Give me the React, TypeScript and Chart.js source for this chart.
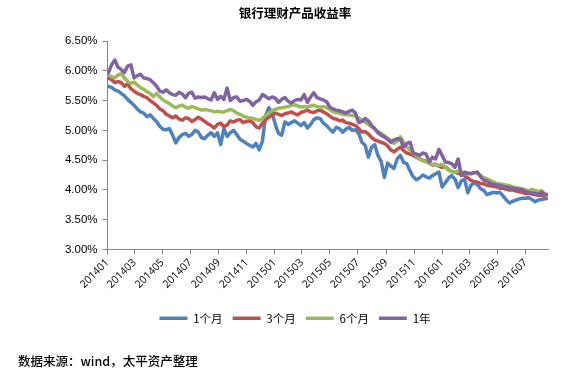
import React, { useEffect, useRef } from 'react';
import { Chart, registerables } from 'chart.js';

Chart.register(...registerables);

const chartTitle = '银行理财产品收益率';
const sourceNote = '数据来源：wind，太平资产整理';
const firstWeek = '2014-01-03';
const tickLabels = ['201401', '201403', '201405', '201407', '201409', '201411', '201501', '201503', '201505', '201507', '201509', '201511', '201601', '201603', '201605', '201607'];
const seriesNames = ['1个月', '3个月', '6个月', '1年'];
const colors = ['#4F81BD', '#C0504D', '#9BBB59', '#8064A2'];

const yield1M = [
  5.74, 5.72, 5.68, 5.66, 5.62, 5.58, 5.52, 5.47, 5.42, 5.36,
  5.31, 5.29, 5.23, 5.26, 5.20, 5.15, 5.07, 5.02, 5.01, 5.03,
  4.92, 4.79, 4.88, 4.93, 4.95, 4.90, 4.93, 5.00, 4.97, 4.88,
  4.86, 4.92, 4.96, 4.90, 4.96, 4.76, 5.03, 4.90, 4.96, 5.00,
  4.93, 4.85, 4.82, 4.78, 4.75, 4.72, 4.78, 4.67, 4.82, 5.25,
  5.38, 5.30, 5.10, 4.95, 4.92, 5.14, 5.10, 5.13, 5.16, 5.12,
  5.08, 5.13, 5.04, 5.10, 5.18, 5.21, 5.20, 5.12, 5.08, 5.02,
  4.97, 5.05, 5.03, 4.97, 5.02, 5.05, 5.00, 5.01, 4.95, 4.80,
  4.75, 4.55, 4.72, 4.76, 4.58, 4.48, 4.21, 4.45, 4.40, 4.36,
  4.52, 4.58, 4.46, 4.44, 4.32, 4.22, 4.17, 4.20, 4.25, 4.22,
  4.20, 4.24, 4.27, 4.30, 4.05, 4.12, 4.20, 4.24, 4.18, 4.04,
  4.15, 4.18, 3.95, 4.08, 4.12, 4.09, 4.02, 3.99, 3.92, 3.94,
  3.96, 3.95, 3.96, 3.90, 3.83, 3.78, 3.81, 3.83, 3.85, 3.86,
  3.86, 3.87, 3.84, 3.80, 3.83, 3.84, 3.85, 3.86,
];

const yield3M = [
  5.88, 5.85, 5.80, 5.82, 5.80, 5.74, 5.78, 5.70, 5.66, 5.62,
  5.60, 5.57, 5.55, 5.50, 5.46, 5.42, 5.36, 5.33, 5.27, 5.24,
  5.21, 5.24, 5.19, 5.17, 5.21, 5.20, 5.15, 5.18, 5.22, 5.19,
  5.15, 5.11, 5.08, 5.04, 5.10, 5.12, 5.06, 5.09, 5.16, 5.14,
  5.17, 5.18, 5.13, 5.15, 5.16, 5.13, 5.06, 5.04, 5.12, 5.18,
  5.22, 5.26, 5.29, 5.27, 5.25, 5.28, 5.29, 5.31, 5.28, 5.26,
  5.30, 5.32, 5.34, 5.31, 5.30, 5.33, 5.34, 5.31, 5.28, 5.24,
  5.20, 5.19, 5.16, 5.17, 5.13, 5.12, 5.10, 5.08, 5.03, 4.97,
  4.98, 4.94, 4.88, 4.84, 4.82, 4.80, 4.78, 4.74, 4.67, 4.64,
  4.68, 4.72, 4.66, 4.62, 4.60, 4.58, 4.55, 4.52, 4.50, 4.48,
  4.45, 4.42, 4.43, 4.40, 4.38, 4.39, 4.34, 4.31, 4.30, 4.28,
  4.26, 4.24, 4.20, 4.16, 4.14, 4.13, 4.11, 4.10, 4.08, 4.07,
  4.06, 4.05, 4.03, 4.03, 4.01, 4.00, 4.00, 3.98, 3.97, 3.96,
  3.94, 3.94, 3.93, 3.92, 3.91, 3.91, 3.89, 3.88,
];

const yield6M = [
  5.93, 5.90, 5.88, 5.93, 5.95, 5.88, 5.82, 5.79, 5.81, 5.76,
  5.72, 5.69, 5.65, 5.62, 5.57, 5.62, 5.56, 5.51, 5.48, 5.45,
  5.41, 5.38, 5.41, 5.42, 5.39, 5.37, 5.40, 5.38, 5.36, 5.34,
  5.35, 5.34, 5.33, 5.31, 5.32, 5.31, 5.31, 5.33, 5.35, 5.33,
  5.29, 5.27, 5.24, 5.22, 5.21, 5.20, 5.18, 5.17, 5.20, 5.25,
  5.29, 5.33, 5.35, 5.37, 5.38, 5.39, 5.40, 5.42, 5.43, 5.41,
  5.39, 5.40, 5.39, 5.41, 5.42, 5.40, 5.39, 5.40, 5.38, 5.35,
  5.31, 5.30, 5.29, 5.27, 5.26, 5.26, 5.25, 5.24, 5.21, 5.17,
  5.14, 5.10, 5.06, 5.02, 4.98, 4.95, 4.91, 4.87, 4.83, 4.78,
  4.82, 4.89, 4.80, 4.72, 4.67, 4.62, 4.57, 4.52, 4.49, 4.47,
  4.45, 4.43, 4.42, 4.41, 4.43, 4.38, 4.33, 4.31, 4.30, 4.32,
  4.30, 4.28, 4.27, 4.28, 4.29, 4.28, 4.24, 4.21, 4.18, 4.16,
  4.13, 4.11, 4.10, 4.09, 4.08, 4.07, 4.05, 4.04, 4.03, 4.02,
  4.00, 3.99, 4.01, 3.99, 3.98, 3.99, 3.93, 3.89,
];

const yield1Y = [
  5.97, 6.10, 6.18, 6.06, 6.02, 5.97, 6.08, 6.10, 5.88, 5.92,
  5.94, 5.88, 5.87, 5.85, 5.80, 5.74, 5.66, 5.64, 5.68, 5.63,
  5.60, 5.59, 5.64, 5.61, 5.55, 5.62, 5.64, 5.54, 5.56, 5.55,
  5.56, 5.53, 5.51, 5.63, 5.52, 5.57, 5.52, 5.71, 5.50, 5.55,
  5.56, 5.49, 5.50, 5.52, 5.49, 5.42, 5.48, 5.51, 5.60, 5.57,
  5.53, 5.56, 5.54, 5.47, 5.52, 5.55, 5.49, 5.46, 5.50, 5.52,
  5.51, 5.60, 5.47, 5.56, 5.63, 5.55, 5.53, 5.51, 5.48, 5.39,
  5.36, 5.34, 5.33, 5.31, 5.29, 5.32, 5.34, 5.29, 5.13, 5.15,
  5.20, 5.16, 5.08, 5.03, 4.96, 4.92, 4.89, 4.85, 4.80, 4.84,
  4.86, 4.85, 4.72, 4.78, 4.80, 4.62, 4.60, 4.58, 4.62, 4.60,
  4.47, 4.55, 4.52, 4.68, 4.58, 4.47, 4.46, 4.44, 4.38, 4.52,
  4.24, 4.30, 4.28, 4.27, 4.29, 4.30, 4.22, 4.16, 4.15, 4.11,
  4.10, 4.08, 4.08, 4.06, 4.05, 4.04, 4.03, 4.02, 4.01, 4.00,
  3.98, 3.96, 3.95, 3.94, 3.93, 3.96, 3.93, 3.92,
];

const seriesValues = [yield1M, yield3M, yield6M, yield1Y];

const DAY = 86400000;
const origin = Date.UTC(2014, 0, 1);
const weekDays = yield1M.map((_, i) => (Date.parse(firstWeek) - origin) / DAY + 7 * i);
const tickDays = tickLabels.map(
  (l) => (Date.UTC(Number(l.slice(0, 4)), Number(l.slice(4)) - 1, 1) - origin) / DAY
);

const axisColor = '#868686';

export default function App() {
  const canvasRef = useRef<HTMLCanvasElement | null>(null);

  useEffect(() => {
    document.body.style.margin = '0';
    const canvas = canvasRef.current;
    if (!canvas) return;
    const chart = new Chart(canvas, {
      type: 'line',
      data: {
        datasets: seriesNames.map((name, k) => ({
          label: name,
          data: seriesValues[k].map((v, i) => ({ x: weekDays[i], y: v })),
          borderColor: colors[k],
          backgroundColor: colors[k],
          borderWidth: 3.5,
          pointRadius: 0,
          pointStyle: 'line',
          tension: 0,
          borderJoinStyle: 'round',
          borderCapStyle: 'round',
          order: seriesNames.length - k,
        })),
      },
      options: {
        responsive: false,
        animation: false,
        devicePixelRatio: 1,
        layout: { padding: { left: 42, right: 25, top: 0, bottom: 53 } },
        plugins: {
          title: {
            display: true,
            text: chartTitle,
            color: '#000',
            font: { family: '"Noto Sans CJK SC", sans-serif', size: 12.5, weight: 'bold' },
            padding: { top: 6, bottom: 20 },
          },
          legend: {
            display: true,
            position: 'bottom',
            labels: {
              usePointStyle: true,
              pointStyleWidth: 28,
              boxHeight: 11,
              padding: 10,
              color: '#000',
              font: { family: '"Noto Sans CJK SC", sans-serif', size: 11.5 },
              sort: (a: any, b: any) => a.datasetIndex - b.datasetIndex,
            },
          },
          tooltip: { enabled: false },
        },
        scales: {
          x: {
            type: 'linear',
            min: 0,
            max: weekDays[weekDays.length - 1],
            afterBuildTicks: (s: any) => {
              s.ticks = tickDays.map((v) => ({ value: v }));
            },
            afterFit: (s: any) => {
              s.height = 53;
            },
            ticks: {
              autoSkip: false,
              minRotation: 45,
              maxRotation: 45,
              padding: 2,
              color: '#000',
              font: { family: '"Open Sans", sans-serif', size: 10.5 },
              callback: (v: any) => {
                const i = tickDays.indexOf(Number(v));
                return i >= 0 ? tickLabels[i] : '';
              },
            },
            grid: { drawOnChartArea: false, drawTicks: true, tickLength: 5, color: axisColor },
            border: { color: axisColor, width: 1 },
          },
          y: {
            min: 3,
            max: 6.5,
            afterFit: (s: any) => {
              s.width = 65.5;
            },
            ticks: {
              stepSize: 0.5,
              padding: 5,
              color: '#000',
              font: { family: '"Liberation Sans", sans-serif', size: 11.5 },
              callback: (v: any) => Number(v).toFixed(2) + '%',
            },
            grid: { drawOnChartArea: false, drawTicks: true, tickLength: 5, color: axisColor },
            border: { color: axisColor, width: 1 },
          },
        },
      } as any,
    });
    return () => chart.destroy();
  }, []);

  return (
    <div style={{ position: 'relative', width: 573, height: 387, background: '#fff' }}>
      <canvas ref={canvasRef} width={573} height={387} style={{ display: 'block', width: 573, height: 387 }} />
      <div
        style={{
          position: 'absolute',
          left: 18,
          top: 354,
          fontFamily: '"Noto Sans CJK SC", sans-serif',
          fontSize: 12.5,
          fontWeight: 500,
          lineHeight: '14px',
          color: '#000',
          whiteSpace: 'nowrap',
        }}
      >
        {sourceNote}
      </div>
    </div>
  );
}
